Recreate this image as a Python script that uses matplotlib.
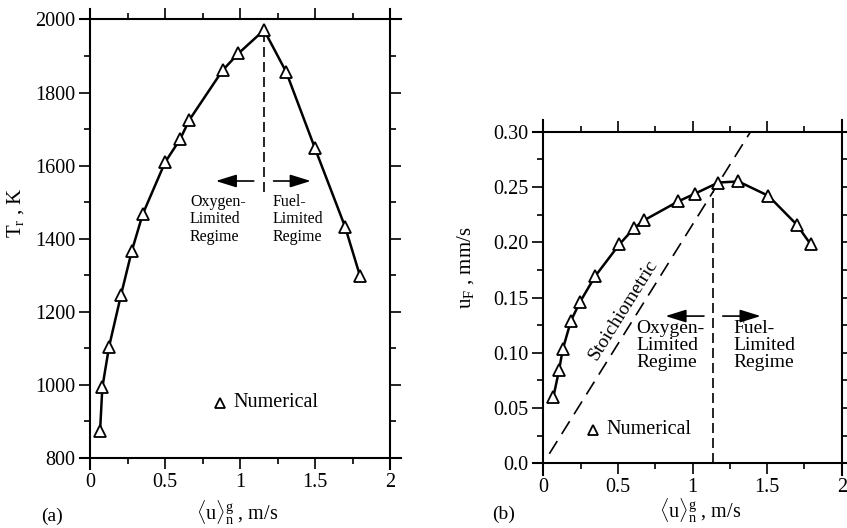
import matplotlib
matplotlib.use("Agg")
import matplotlib.pyplot as plt
from matplotlib.ticker import MultipleLocator

plt.rcParams['font.family'] = ['Liberation Serif', 'DejaVu Serif']
plt.rcParams['mathtext.fontset'] = 'custom'
plt.rcParams['mathtext.rm'] = 'Liberation Serif'
plt.rcParams['mathtext.it'] = 'Liberation Serif:italic'

# (a) flame temperature vs. gas velocity
u_a = [0.067, 0.082, 0.127, 0.207, 0.278, 0.351, 0.50, 0.60, 0.662,
       0.884, 0.989, 1.16, 1.307, 1.50, 1.70, 1.80]
T_r = [875, 993, 1105, 1247, 1366, 1467, 1609, 1672, 1725,
       1861, 1907, 1971, 1857, 1647, 1433, 1298]

# (b) fuel regression speed vs. gas velocity
u_b = [0.067, 0.105, 0.130, 0.185, 0.246, 0.346, 0.509, 0.61, 0.677,
       0.905, 1.017, 1.173, 1.307, 1.508, 1.698, 1.792]
u_F = [0.060, 0.084, 0.103, 0.129, 0.146, 0.169, 0.198, 0.213, 0.220,
       0.237, 0.244, 0.254, 0.255, 0.242, 0.216, 0.198]

stoich_slope = 0.216       # mm/s per m/s
stoich_x = [0.04, 1.389]
switch_a = 1.16            # stoichiometric crossover, panel (a)
switch_b = 1.14            # panel (b)

xticks = [0, 0.5, 1, 1.5, 2]
xticklabels = ['0', '0.5', '1', '1.5', '2']
yticks_a = [800, 1000, 1200, 1400, 1600, 1800, 2000]
yticks_b = [0.0, 0.05, 0.10, 0.15, 0.20, 0.25, 0.30]
yticklabels_b = ['0.0', '0.05', '0.10', '0.15', '0.20', '0.25', '0.30']

fig = plt.figure(figsize=(8.47, 5.28), dpi=100)
ax1 = fig.add_axes([0.1063, 0.1326, 0.3542, 0.8305])
ax2 = fig.add_axes([0.6415, 0.1225, 0.3523, 0.6281])


def style_axes(ax, xext, yext):
    ax.set_xlim(0, 2)
    ax.set_xticks(xticks)
    ax.set_xticklabels(xticklabels)
    ax.xaxis.set_minor_locator(MultipleLocator(0.25))
    ax.tick_params(which='both', direction='out', top=True, right=True,
                   width=1.2, labelsize=14.5, pad=2.5)
    ax.tick_params(which='major', length=8)
    ax.tick_params(which='minor', length=4.5)
    for s in ax.spines.values():
        s.set_linewidth(1.5)
    x0, x1 = ax.get_xlim()
    y0, y1 = ax.get_ylim()
    ax.spines['top'].set_bounds(x0 - xext, x1 + xext)
    ax.spines['bottom'].set_bounds(x0 - xext, x1 + xext)
    ax.spines['left'].set_bounds(y0 - yext, y1 + yext)
    ax.spines['right'].set_bounds(y0 - yext, y1 + yext)


# ---- panel (a)
ax1.plot(u_a, T_r, color='black', lw=1.8, marker='^', ms=8.5,
         mfc='white', mec='black', mew=1.3, zorder=3)
ax1.plot([switch_a, switch_a], [1528, 1966], color='black', lw=1.2,
         ls=(0, (6, 3)))
arrow = dict(arrowstyle='-|>,head_length=0.9,head_width=0.28',
             color='black', lw=1.2, mutation_scale=14)
ax1.annotate('', xy=(0.82, 1558), xytext=(1.11, 1558), arrowprops=arrow)
ax1.annotate('', xy=(1.49, 1558), xytext=(1.205, 1558), arrowprops=arrow)
ax1.text(0.667, 1523, 'Oxygen-\nLimited\nRegime', fontsize=11.5,
         va='top', ha='left', linespacing=1.12)
ax1.text(1.22, 1523, 'Fuel-\nLimited\nRegime', fontsize=11.5,
         va='top', ha='left', linespacing=1.12)
ax1.plot([0.867], [951], ls='none', marker='^', ms=7.5, mfc='white',
         mec='black', mew=1.3)
ax1.text(0.955, 951, 'Numerical', fontsize=14.5, va='center', ha='left')

ax1.set_ylim(800, 2000)
ax1.set_yticks(yticks_a)
ax1.yaxis.set_minor_locator(MultipleLocator(100))
style_axes(ax1, 0.07, 30)
ax1.set_ylabel(r'T$_\mathrm{r}$ , K', fontsize=15)
ax1.yaxis.set_label_coords(-0.215, 0.56)
ax1.set_xlabel(r'$\langle\mathrm{u}\rangle_\mathrm{n}^\mathrm{g}$ , m/s',
               fontsize=14.5)
ax1.xaxis.set_label_coords(0.49, -0.091)

# ---- panel (b)
ax2.plot(u_b, u_F, color='black', lw=1.8, marker='^', ms=8.5,
         mfc='white', mec='black', mew=1.3, zorder=3)
ax2.plot(stoich_x, [stoich_slope * x for x in stoich_x], color='black',
         lw=1.2, ls=(0, (9, 5)))
ax2.plot([switch_b, switch_b], [0.0, 0.245], color='black', lw=1.2,
         ls=(0, (6, 3)))
ax2.annotate('', xy=(0.80, 0.1332), xytext=(1.095, 0.1332), arrowprops=arrow)
ax2.annotate('', xy=(1.475, 0.1332), xytext=(1.184, 0.1332), arrowprops=arrow)
ax2.text(0.626, 0.1296, 'Oxygen-\nLimited\nRegime', fontsize=14,
         va='top', ha='left', linespacing=1.0)
ax2.text(1.274, 0.1296, 'Fuel-\nLimited\nRegime', fontsize=14,
         va='top', ha='left', linespacing=1.0)
ax2.text(0.536, 0.1387, 'Stoichiometric', fontsize=14, rotation=58,
         rotation_mode='anchor', va='center', ha='center')
ax2.plot([0.335], [0.0302], ls='none', marker='^', ms=7.5, mfc='white',
         mec='black', mew=1.3)
ax2.text(0.425, 0.0302, 'Numerical', fontsize=14.5, va='center', ha='left')

ax2.set_ylim(0, 0.30)
ax2.set_yticks(yticks_b)
ax2.set_yticklabels(yticklabels_b)
ax2.yaxis.set_minor_locator(MultipleLocator(0.025))
style_axes(ax2, 0.07, 0.011)
ax2.set_ylabel(r'u$_\mathrm{F}$ , mm/s', fontsize=15)
ax2.yaxis.set_label_coords(-0.225, 0.59)
ax2.set_xlabel(r'$\langle\mathrm{u}\rangle_\mathrm{n}^\mathrm{g}$ , m/s',
               fontsize=14.5)
ax2.xaxis.set_label_coords(0.525, -0.099)

fig.text(0.061, 0.023, '(a)', fontsize=14, va='center', ha='center')
fig.text(0.594, 0.025, '(b)', fontsize=14, va='center', ha='center')

fig.savefig('out.png', dpi=100)
